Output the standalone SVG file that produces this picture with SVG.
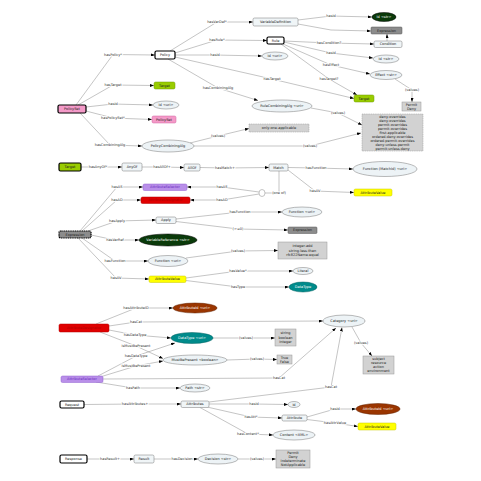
<svg xmlns="http://www.w3.org/2000/svg" width="481" height="481" viewBox="0 0 481 481">
<defs>
<marker id="a" markerUnits="userSpaceOnUse" markerWidth="4" markerHeight="3" refX="4" refY="1.5" orient="auto"><path d="M0,0 L4,1.5 L0,3 z" fill="#000"/></marker>
<style>
.e{fill:none;stroke:#8a8a8a;stroke-width:0.5;marker-end:url(#a)}
.p{fill:none;stroke:#8a8a8a;stroke-width:0.5}
.l{font-family:"DejaVu Sans",sans-serif;font-size:3.5px;fill:#333;text-anchor:middle;dominant-baseline:central;paint-order:stroke;stroke:#fff;stroke-width:1.5}
text.t{font-family:"DejaVu Sans",sans-serif;font-size:3.5px;fill:#222;text-anchor:middle;dominant-baseline:central}
.w{fill:#fff !important}
.box{fill:#f0f5f7;stroke:#777;stroke-width:0.5}
.ell{fill:#edf3f6;stroke:#777;stroke-width:0.5}
.root{stroke:#000 !important;stroke-width:1.2 !important}
.dash{stroke-dasharray:1.2 0.6}
.gray{fill:#d2d2d2;stroke:#999;stroke-width:0.5}
.dark{fill:#8c8c8c;stroke:#555;stroke-width:0.5}
.pink{fill:#f49ac8;stroke:#d060a0;stroke-width:0.5}
.green{fill:#99cc00;stroke:#6f9a00;stroke-width:0.5}
.yellow{fill:#ffff00;stroke:#c8c800;stroke-width:0.5}
.purple{fill:#b98fe9;stroke:#9060d0;stroke-width:0.5}
.red{fill:#e00000;stroke:#b00000;stroke-width:0.5}
.teal{fill:#008b8b;stroke:#006060;stroke-width:0.5}
.dgreen{fill:#0a3a0a;stroke:#000;stroke-width:0.5}
.brown{fill:#9a3500;stroke:#602000;stroke-width:0.5}
.white{fill:#fff}
</style>
</defs>
<rect width="481" height="481" fill="#fff"/>
<g id="connectors">
<polyline class="e" points="76,105 113,54.5 155,55"/>
<polyline class="e" points="78,105 113,85 154,85.5"/>
<polyline class="e" points="86,107 113,104 153,105"/>
<polyline class="e" points="86,111 113,118 152,119.5"/>
<polyline class="e" points="80,113 110,145 142,146"/>
<polyline class="e" points="170,51 217,22 253,22"/>
<polyline class="e" points="175,53 217,40 267,40.5"/>
<polyline class="e" points="175,55 215,55 262,56"/>
<polyline class="e" points="175,57 272,79 354,98.5"/>
<polyline class="e" points="168,59 218,88 258,100.5"/>
<polyline class="e" points="284,41 329,43 374,44"/>
<polyline class="e" points="284,42 331,53 373,58"/>
<polyline class="e" points="283,44 331,65 370,74"/>
<polyline class="e" points="281,44 329,79 357,95"/>
<polyline class="e" points="298,20 331,16 372,17"/>
<polyline class="e" points="298,24 331,30 371,31"/>
<polyline class="e" points="387,41 387,34"/>
<polyline class="e" points="395,79 412,90 412,102"/>
<polyline class="e" points="311,108 338,113 362,125"/>
<polyline class="e" points="190,143 218,136 249,128.5"/>
<polyline class="e" points="194,146 310,146 361,133"/>
<polyline class="e" points="81,167 98,167 122,167"/>
<polyline class="e" points="142,167 162,167 184,167.5"/>
<polyline class="e" points="200,167.5 225,168 269,167.5"/>
<polyline class="e" points="288,167.5 316,168 353,169"/>
<polyline class="e" points="288,170 315,191 354,192.5"/>
<polyline class="p" points="279,171 279,193 265,193"/>
<polyline class="e" points="259,192 222,187 187,187"/>
<polyline class="e" points="259,194 222,200 190,200"/>
<polyline class="e" points="80,231 117,187 143,187"/>
<polyline class="e" points="82,231 117,200 141,200"/>
<polyline class="e" points="88,231 117,221 156,220"/>
<polyline class="e" points="176,219 240,212 282,212"/>
<polyline class="e" points="176,221.5 238,229 288,230"/>
<polyline class="e" points="91,235 115,240 139,240"/>
<polyline class="e" points="82,238 115,261 148,261"/>
<polyline class="e" points="78,238 116,278 149,279"/>
<polyline class="e" points="186,258 238,251 278,250.5"/>
<polyline class="e" points="186,278 238,271 293,271"/>
<polyline class="e" points="186,280.5 238,287 289,287"/>
<polyline class="e" points="96,324 136,308 173,308"/>
<polyline class="e" points="109,326 136,322 323,321"/>
<polyline class="e" points="109,330 135,335 171,338"/>
<polyline class="e" points="100,332 136,346 163,358.5"/>
<polyline class="e" points="213,338 246,338 275,338"/>
<polyline class="e" points="227,360 257,359 277,359.5"/>
<polyline class="e" points="352,327 361,343 372,356"/>
<polyline class="e" points="98,376 136,356 175,343"/>
<polyline class="e" points="100,377 136,366 163,361"/>
<polyline class="e" points="103,379 279,378 336,328"/>
<polyline class="e" points="96,382 133,388 180,388"/>
<polyline class="e" points="84,404.5 135,404 181,404"/>
<polyline class="e" points="209,402 331,387 342,327.5"/>
<polyline class="e" points="209,404 254,404 288,404.5"/>
<polyline class="e" points="207,407 251,417 282,418"/>
<polyline class="e" points="200,407.5 248,434 273,435"/>
<polyline class="e" points="307,417 335,409 356,409"/>
<polyline class="e" points="307,419.5 335,423 358,426.5"/>
<polyline class="e" points="87,459 110,459 134,459"/>
<polyline class="e" points="154,459 182,459 198,459"/>
<polyline class="e" points="238,459 257,459 276,459"/>
<text class="l" x="113" y="54.5">hasPolicy*</text>
<text class="l" x="113" y="85">hasTarget</text>
<text class="l" x="113" y="104">hasId</text>
<text class="l" x="113" y="118">hasPolicySet*</text>
<text class="l" x="110" y="145">hasCombiningAlg</text>
<text class="l" x="217" y="22">hasVarDef*</text>
<text class="l" x="217" y="40">hasRule*</text>
<text class="l" x="215" y="55">hasId</text>
<text class="l" x="272" y="79">hasTarget</text>
<text class="l" x="218" y="88">hasCombiningAlg</text>
<text class="l" x="329" y="43">hasCondition?</text>
<text class="l" x="331" y="53">hasId</text>
<text class="l" x="331" y="65">hasEffect</text>
<text class="l" x="329" y="79">hasTarget?</text>
<text class="l" x="331" y="16">hasId</text>
<text class="l" x="412" y="90">(values)</text>
<text class="l" x="338" y="113">(values)</text>
<text class="l" x="218" y="136">(values)</text>
<text class="l" x="310" y="146">(values)</text>
<text class="l" x="98" y="167">hasAnyOf*</text>
<text class="l" x="162" y="167">hasAllOf+</text>
<text class="l" x="225" y="168">hasMatch+</text>
<text class="l" x="316" y="168">hasFunction</text>
<text class="l" x="315" y="191">hasAV</text>
<text class="l" x="279" y="192.5">(one of)</text>
<text class="l" x="222" y="187">hasAS</text>
<text class="l" x="222" y="200">hasAD</text>
<text class="l" x="117" y="187">hasAS</text>
<text class="l" x="117" y="200">hasAD</text>
<text class="l" x="117" y="221">hasApply</text>
<text class="l" x="240" y="212">hasFunction</text>
<text class="l" x="238" y="229">(>=0)</text>
<text class="l" x="115" y="240">hasVarRef</text>
<text class="l" x="115" y="261">hasFunction</text>
<text class="l" x="116" y="278">hasAV</text>
<text class="l" x="238" y="251">(values)</text>
<text class="l" x="238" y="271">hasValue*</text>
<text class="l" x="238" y="287">hasType</text>
<text class="l" x="136" y="308">hasAttributeID</text>
<text class="l" x="136" y="322">hasCat</text>
<text class="l" x="135" y="335">hasDataType</text>
<text class="l" x="136" y="346">isMustBePresent</text>
<text class="l" x="246" y="338">(values)</text>
<text class="l" x="257" y="359">(values)</text>
<text class="l" x="361" y="343">(values)</text>
<text class="l" x="136" y="356">hasDataType</text>
<text class="l" x="136" y="366">isMustBePresent</text>
<text class="l" x="279" y="378">hasCat</text>
<text class="l" x="133" y="388">hasPath</text>
<text class="l" x="135" y="404">hasAttributes+</text>
<text class="l" x="331" y="387">hasCat</text>
<text class="l" x="254" y="404">hasId</text>
<text class="l" x="251" y="417">hasAtt*</text>
<text class="l" x="248" y="434">hasContent*</text>
<text class="l" x="335" y="409">hasId</text>
<text class="l" x="335" y="423">hasAttrValue</text>
<text class="l" x="110" y="459">hasResult+</text>
<text class="l" x="182" y="459">hasDecision</text>
<text class="l" x="257" y="459">(values)</text>
</g>
<g id="PolicySet"><rect class="pink root" x="58" y="105" width="28" height="8" rx="1.5"/><text class="t" x="72" y="109">PolicySet</text></g>
<g id="Policy"><rect class="box root white" x="155" y="51" width="20" height="8" rx="1.5"/><text class="t" x="165" y="55">Policy</text></g>
<g id="Target1"><rect class="green" x="154" y="82" width="21" height="7" rx="1.5"/><text class="t" x="164.5" y="85.5">Target</text></g>
<g id="IdUri1"><ellipse class="ell" cx="166" cy="105" rx="13" ry="4"/><text class="t" x="166" y="105">id &lt;uri&gt;</text></g>
<g id="PolicySet2"><rect class="pink" x="152" y="116" width="24" height="7" rx="1.5"/><text class="t" x="164" y="119.5">PolicySet</text></g>
<g id="PolicyCombiningAlg"><ellipse class="ell" cx="168" cy="146" rx="26" ry="6"/><text class="t" x="168" y="146">PolicyCombiningAlg</text></g>
<g id="VariableDefinition"><rect class="box" x="253" y="18" width="45" height="8" rx="1.5"/><text class="t" x="275.5" y="22">VariableDefinition</text></g>
<g id="Rule"><rect class="box root white" x="267" y="37" width="17" height="7" rx="1.5"/><text class="t" x="275.5" y="40.5">Rule</text></g>
<g id="IdUri2"><ellipse class="ell" cx="275" cy="56" rx="13" ry="4"/><text class="t" x="275" y="56">id &lt;uri&gt;</text></g>
<g id="RuleCombiningAlg"><ellipse class="ell" cx="282" cy="106" rx="30" ry="6"/><text class="t" x="282" y="106">RuleCombiningAlg &lt;uri&gt;</text></g>
<g id="OnlyOne"><rect class="gray dash" x="249" y="124" width="60" height="8"/><text class="t" x="279" y="128">only-one-applicable</text></g>
<g id="IdStr1"><ellipse class="dgreen" cx="384" cy="17" rx="12" ry="4.5"/><text class="t" x="384" y="17" fill="#fff" style="fill:#fff">id &lt;str&gt;</text></g>
<g id="Expression1"><rect class="dark" x="371" y="27" width="31" height="7" rx="1"/><text class="t" x="386.5" y="30.5">Expression</text></g>
<g id="Condition"><rect class="box" x="374" y="41" width="28" height="6.5" rx="1.5"/><text class="t" x="388" y="44.3">Condition</text></g>
<g id="IdStr2"><ellipse class="ell" cx="386" cy="59" rx="13" ry="4"/><text class="t" x="386" y="59">id &lt;str&gt;</text></g>
<g id="Effect"><ellipse class="ell" cx="386" cy="75" rx="16" ry="4.5"/><text class="t" x="386" y="75">Effect &lt;str&gt;</text></g>
<g id="Target2"><rect class="green" x="354" y="95" width="20" height="7" rx="1.5"/><text class="t" x="364" y="98.5">Target</text></g>
<g id="PermitDeny"><rect class="gray" x="402" y="102" width="19" height="9"/><text class="t" x="411.5" y="104.7">Permit</text><text class="t" x="411.5" y="108.5">Deny</text></g>
<g id="CombAlgValues"><rect class="gray dash" x="362" y="114" width="61" height="37"/>
<text class="t" x="392.5" y="117">deny-overrides</text>
<text class="t" x="392.5" y="121">deny-overrides</text>
<text class="t" x="392.5" y="125">permit-overrides</text>
<text class="t" x="392.5" y="129">permit-overrides</text>
<text class="t" x="392.5" y="133">first-applicable</text>
<text class="t" x="392.5" y="137">ordered-deny-overrides</text>
<text class="t" x="392.5" y="141">ordered-permit-overrides</text>
<text class="t" x="392.5" y="145">deny-unless-permit</text>
<text class="t" x="392.5" y="149">permit-unless-deny</text></g>
<g id="TargetRoot"><rect class="green root" x="59" y="163" width="22" height="8" rx="1.5"/><text class="t" x="70" y="167">Target</text></g>
<g id="AnyOf"><rect class="box" x="122" y="163" width="20" height="8" rx="1.5"/><text class="t" x="132" y="167">AnyOf</text></g>
<g id="AllOf"><rect class="box" x="184" y="164" width="16" height="7" rx="1.5"/><text class="t" x="192" y="167.5">AllOf</text></g>
<g id="Match"><rect class="box" x="269" y="164" width="19" height="7" rx="1.5"/><text class="t" x="278.5" y="167.5">Match</text></g>
<g id="FunctionMatch"><ellipse class="ell" cx="385" cy="169" rx="32" ry="7.5"/><text class="t" x="385" y="169">Function (MatchId) &lt;uri&gt;</text></g>
<g id="AttributeValue1"><rect class="yellow" x="354" y="189" width="38" height="7" rx="1.5"/><text class="t" x="373" y="192.5">AttributeValue</text></g>
<g id="OneOf"><ellipse cx="262" cy="193" rx="3" ry="3.5" fill="#fff" stroke="#888" stroke-width="0.5"/></g>
<g id="AttributeSelector1"><rect class="purple" x="143" y="184" width="44" height="6.5" rx="1.5"/><text class="t" x="165" y="187.3" style="fill:#6a2cc0">AttributeSelector</text></g>
<g id="AttributeDesignator1"><rect class="red" x="141" y="197" width="49" height="6.5" rx="1.5"/><text class="t" x="165.5" y="200.3" style="fill:#b00000">AttributeDesignator</text></g>
<g id="ExpressionRoot"><rect class="dark root dash" x="59" y="231" width="32" height="7" rx="1.5"/><text class="t" x="75" y="234.5">Expression</text></g>
<g id="Apply"><rect class="box" x="156" y="217" width="20" height="6.5" rx="1.5"/><text class="t" x="166" y="220.3">Apply</text></g>
<g id="FunctionUri1"><ellipse class="ell" cx="302" cy="212" rx="20" ry="5"/><text class="t" x="302" y="212">Function &lt;uri&gt;</text></g>
<g id="Expression2"><rect class="dark" x="288" y="227" width="29" height="6.5" rx="1"/><text class="t" x="302.5" y="230.3">Expression</text></g>
<g id="VariableReference"><ellipse class="dgreen" cx="168" cy="240" rx="29" ry="6"/><text class="t" x="168" y="240" style="fill:#fff">VariableReference &lt;str&gt;</text></g>
<g id="FunctionUri2"><ellipse class="ell" cx="168" cy="261" rx="20" ry="5.5"/><text class="t" x="168" y="261">Function &lt;uri&gt;</text></g>
<g id="FunctionValues"><rect class="gray" x="278" y="242" width="49" height="17"/><text class="t" x="302.5" y="246">integer-add</text><text class="t" x="302.5" y="250.5">string-less-than</text><text class="t" x="302.5" y="255">rfc822Name-equal</text></g>
<g id="AttributeValue2"><rect class="yellow" x="149" y="276" width="37" height="6.5" rx="1.5"/><text class="t" x="167.5" y="279.3">AttributeValue</text></g>
<g id="Literal"><ellipse class="ell" cx="303" cy="271" rx="10" ry="3.5"/><text class="t" x="303" y="271">Literal</text></g>
<g id="DataType"><ellipse class="teal" cx="303" cy="287" rx="14" ry="5"/><text class="t" x="303" y="287" style="fill:#fff">DataType</text></g>
<g id="AttributeDesignatorRoot"><rect class="red" x="59" y="324" width="50" height="8" rx="1.5"/><text class="t" x="84" y="328" style="fill:#b00000">AttributeDesignator</text></g>
<g id="AttributeIdUri1"><ellipse class="brown" cx="195" cy="308" rx="22" ry="5"/><text class="t" x="195" y="308" style="fill:#fff">AttributeId &lt;uri&gt;</text></g>
<g id="Category"><ellipse class="ell" cx="344" cy="321" rx="21" ry="6"/><text class="t" x="344" y="321">Category &lt;uri&gt;</text></g>
<g id="DataTypeUri"><ellipse class="teal" cx="192" cy="338" rx="21" ry="5.5"/><text class="t" x="192" y="338" style="fill:#fff">DataType &lt;uri&gt;</text></g>
<g id="MustBePresent"><ellipse class="ell" cx="195" cy="360" rx="32" ry="5"/><text class="t" x="195" y="360">MustBePresent &lt;boolean&gt;</text></g>
<g id="DataTypeValues"><rect class="gray" x="275" y="329" width="21" height="17"/><text class="t" x="285.5" y="333">string</text><text class="t" x="285.5" y="337.5">boolean</text><text class="t" x="285.5" y="342">integer</text></g>
<g id="TrueFalse"><rect class="gray" x="277" y="355" width="15" height="9"/><text class="t" x="284.5" y="357.7">True</text><text class="t" x="284.5" y="361.5">False</text></g>
<g id="CategoryValues"><rect class="gray" x="363" y="356" width="31" height="18"/><text class="t" x="378.5" y="359">subject</text><text class="t" x="378.5" y="363">resource</text><text class="t" x="378.5" y="367">action</text><text class="t" x="378.5" y="371">environment</text></g>
<g id="AttributeSelectorRoot"><rect class="purple" x="61" y="376" width="42" height="6.5" rx="1.5"/><text class="t" x="82" y="379.3" style="fill:#6a2cc0">AttributeSelector</text></g>
<g id="Path"><ellipse class="ell" cx="195" cy="388" rx="15" ry="4"/><text class="t" x="195" y="388">Path &lt;str&gt;</text></g>
<g id="Request"><rect class="box root white" x="60" y="401" width="24" height="7" rx="1.5"/><text class="t" x="72" y="404.5">Request</text></g>
<g id="Attributes"><rect class="box" x="181" y="401" width="28" height="6.5" rx="1.5"/><text class="t" x="195" y="404.3">Attributes</text></g>
<g id="Id"><ellipse class="ell" cx="294" cy="404.5" rx="6" ry="3"/><text class="t" x="294" y="404.5">id</text></g>
<g id="Attribute"><rect class="box" x="282" y="415" width="25" height="6" rx="1.5"/><text class="t" x="294.5" y="418">Attribute</text></g>
<g id="Content"><ellipse class="ell" cx="294" cy="435" rx="21" ry="5"/><text class="t" x="294" y="435">Content &lt;XML&gt;</text></g>
<g id="AttributeIdUri2"><ellipse class="brown" cx="378" cy="409" rx="22" ry="5.5"/><text class="t" x="378" y="409" style="fill:#fff">AttributeId &lt;uri&gt;</text></g>
<g id="AttributeValue3"><rect class="yellow" x="358" y="423" width="38" height="7" rx="1.5"/><text class="t" x="377" y="426.5">AttributeValue</text></g>
<g id="Response"><rect class="box root white" x="60" y="455" width="27" height="8" rx="1.5"/><text class="t" x="73.5" y="459">Response</text></g>
<g id="Result"><rect class="box" x="134" y="455" width="20" height="8" rx="1.5"/><text class="t" x="144" y="459">Result</text></g>
<g id="Decision"><ellipse class="ell" cx="218" cy="459" rx="20" ry="5"/><text class="t" x="218" y="459">Decision &lt;str&gt;</text></g>
<g id="DecisionValues"><rect class="gray" x="276" y="450" width="34" height="18"/><text class="t" x="293" y="453">Permit</text><text class="t" x="293" y="457">Deny</text><text class="t" x="293" y="461">Indeterminate</text><text class="t" x="293" y="465">NotApplicable</text></g>
</svg>
